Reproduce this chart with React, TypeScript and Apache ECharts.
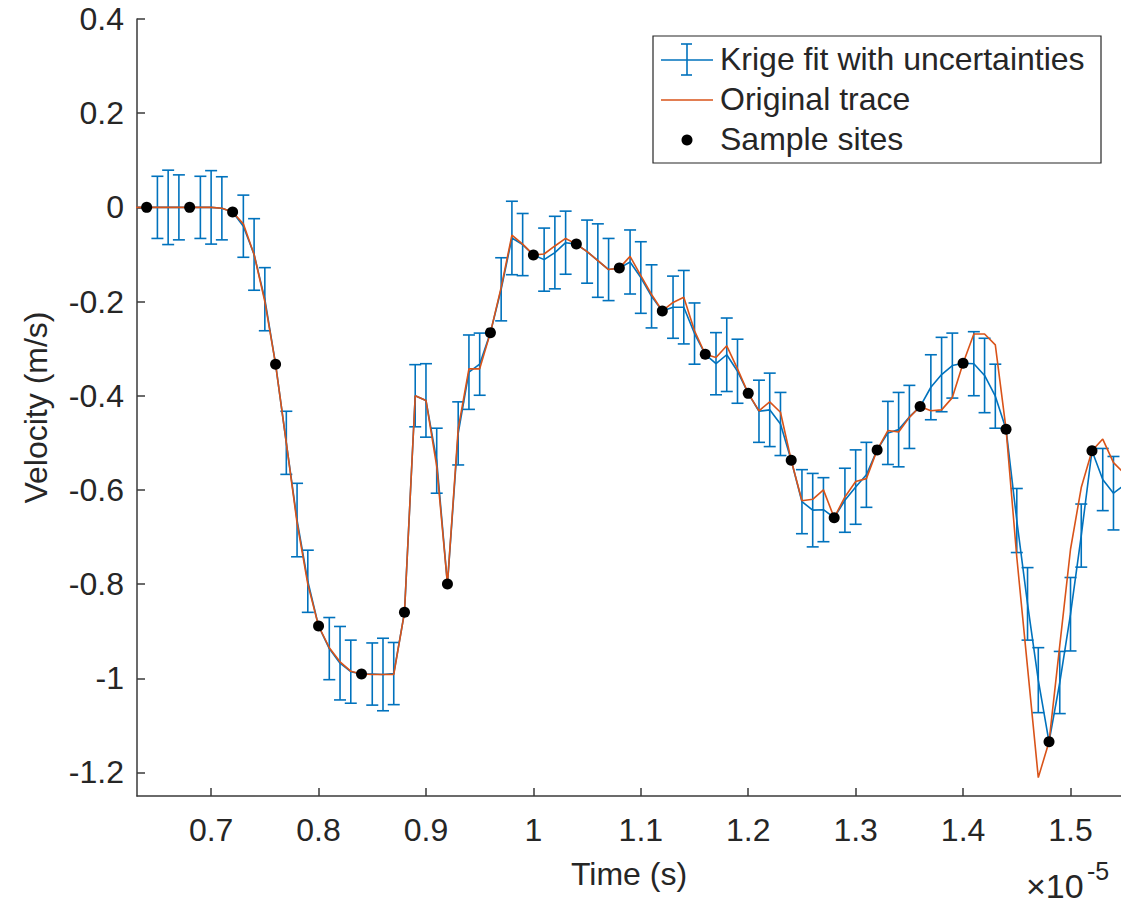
import React, { useEffect, useRef } from "react";
import * as echarts from "echarts";

// Time axis values (in units of 1e-5 s)
const TIME = [
  0.63, 0.64, 0.65, 0.66, 0.67, 0.68, 0.69, 0.7, 0.71, 0.72, 0.73, 0.74, 0.75, 0.76, 0.77, 0.78, 0.79, 0.8,
  0.81, 0.82, 0.83, 0.84, 0.85, 0.86, 0.87, 0.88, 0.89, 0.9, 0.91, 0.92, 0.93, 0.94, 0.95, 0.96, 0.97, 0.98,
  0.99, 1.0, 1.01, 1.02, 1.03, 1.04, 1.05, 1.06, 1.07, 1.08, 1.09, 1.1, 1.11, 1.12, 1.13, 1.14, 1.15, 1.16,
  1.17, 1.18, 1.19, 1.2, 1.21, 1.22, 1.23, 1.24, 1.25, 1.26, 1.27, 1.28, 1.29, 1.3, 1.31, 1.32, 1.33, 1.34,
  1.35, 1.36, 1.37, 1.38, 1.39, 1.4, 1.41, 1.42, 1.43, 1.44, 1.45, 1.46, 1.47, 1.48, 1.49, 1.5, 1.51, 1.52,
  1.53, 1.54, 1.55,
];

// Krige fit (blue)
const KRIGE = [
  0, 0, 0, 0, 0, 0, 0, 0, -0.002, -0.01, -0.04, -0.1, -0.195, -0.333, -0.5, -0.664, -0.794, -0.889,
  -0.937, -0.968, -0.986, -0.991, -0.991, -0.992, -0.99, -0.86, -0.4, -0.41, -0.538, -0.8, -0.48, -0.35, -0.333, -0.266, -0.174, -0.065,
  -0.079, -0.101, -0.111, -0.096, -0.075, -0.078, -0.094, -0.113, -0.132, -0.129, -0.116, -0.149, -0.189, -0.22, -0.212, -0.212, -0.268, -0.312,
  -0.332, -0.313, -0.348, -0.395, -0.433, -0.43, -0.46, -0.537, -0.625, -0.643, -0.642, -0.659, -0.622, -0.594, -0.568, -0.515, -0.479, -0.472,
  -0.445, -0.423, -0.382, -0.355, -0.336, -0.331, -0.332, -0.357, -0.401, -0.471, -0.665, -0.842, -1.004, -1.135, -1.009, -0.864, -0.697, -0.517,
  -0.578, -0.607, -0.59,
];

// Krige uncertainty (half length of each error bar)
const KRIGE_ERR = [
  0.066, 0, 0.066, 0.079, 0.069, 0, 0.066, 0.078, 0.067, 0, 0.066, 0.076, 0.067, 0, 0.067, 0.078, 0.066, 0,
  0.066, 0.078, 0.067, 0, 0.066, 0.077, 0.066, 0, 0.066, 0.078, 0.069, 0, 0.067, 0.079, 0.066, 0, 0.067, 0.078,
  0.066, 0, 0.067, 0.077, 0.067, 0, 0.067, 0.078, 0.066, 0, 0.068, 0.076, 0.067, 0, 0.066, 0.078, 0.065, 0,
  0.066, 0.078, 0.068, 0, 0.066, 0.078, 0.067, 0, 0.068, 0.078, 0.068, 0, 0.068, 0.079, 0.069, 0, 0.067, 0.079,
  0.067, 0, 0.069, 0.079, 0.069, 0, 0.068, 0.079, 0.068, 0, 0.068, 0.077, 0.069, 0, 0.066, 0.078, 0.067, 0,
  0.066, 0.078, 0.09,
];

// Original trace (orange)
const TRACE = [
  0, 0, 0, 0, 0, 0, 0, 0, -0.002, -0.01, -0.035, -0.1, -0.2, -0.333, -0.5, -0.67, -0.8, -0.889,
  -0.935, -0.965, -0.985, -0.991, -0.992, -0.992, -0.992, -0.86, -0.4, -0.41, -0.55, -0.8, -0.47, -0.343, -0.343, -0.266, -0.17, -0.059,
  -0.078, -0.101, -0.099, -0.082, -0.066, -0.078, -0.094, -0.113, -0.132, -0.129, -0.104, -0.145, -0.185, -0.22, -0.202, -0.191, -0.262, -0.312,
  -0.319, -0.294, -0.343, -0.395, -0.432, -0.413, -0.435, -0.537, -0.623, -0.62, -0.6, -0.659, -0.615, -0.582, -0.576, -0.515, -0.474, -0.477,
  -0.446, -0.423, -0.432, -0.43, -0.404, -0.331, -0.269, -0.269, -0.292, -0.471, -0.743, -0.977, -1.211, -1.135, -0.93, -0.726, -0.595, -0.517,
  -0.492, -0.542, -0.565,
];

// Sample sites (black dots)
const SAMPLE_TIME = [
  0.64, 0.68, 0.72, 0.76, 0.8, 0.84, 0.88, 0.92, 0.96, 1.0, 1.04, 1.08, 1.12, 1.16, 1.2, 1.24, 1.28, 1.32,
  1.36, 1.4, 1.44, 1.48, 1.52,
];
const SAMPLE_VEL = [
  0, 0, -0.01, -0.333, -0.889, -0.991, -0.86, -0.8, -0.266, -0.101, -0.078, -0.129, -0.22, -0.312, -0.395,
  -0.537, -0.659, -0.515, -0.423, -0.331, -0.471, -1.135, -0.517,
];

const X_TICKS = [0.7, 0.8, 0.9, 1.0, 1.1, 1.2, 1.3, 1.4, 1.5];
const Y_TICKS = [-1.2, -1, -0.8, -0.6, -0.4, -0.2, 0, 0.2, 0.4];
const X_MIN = 0.631;
const X_MAX = 1.547;
const Y_MIN = -1.25;
const Y_MAX = 0.4;

const LEGEND_NAMES = ["Krige fit with uncertainties", "Original trace", "Sample sites"];

const BLUE = "#0072BD";
const ORANGE = "#D95319";
const INK = "#262626";
const AXIS = "#3a3a3a";
const FONT = "'Liberation Sans', Arial, Helvetica, sans-serif";

const fmt = (v: number) => String(Math.round(v * 10) / 10);

export default function App() {
  const ref = useRef<HTMLDivElement>(null);

  useEffect(() => {
    if (!ref.current) return;
    const chart = echarts.init(ref.current, null, { renderer: "svg" });

    const errData = TIME.map((t, i) => [t, KRIGE[i], KRIGE_ERR[i]]);
    const krigeLine = TIME.map((t, i) => [t, KRIGE[i]]);
    const traceLine = TIME.map((t, i) => [t, TRACE[i]]);
    const samples = SAMPLE_TIME.map((t, i) => [t, SAMPLE_VEL[i]]);

    const textStyle = { color: INK, fontSize: 32, fontFamily: FONT };
    const gtext = (x: number, y: number, text: string, size = 32) => ({
      type: "text",
      x,
      y,
      z: 20,
      style: {
        text,
        fill: INK,
        fontSize: size,
        fontFamily: FONT,
        verticalAlign: "middle",
        align: "left",
      },
    });

    chart.setOption({
      animation: false,
      backgroundColor: "#ffffff",
      grid: { left: 137, top: 19, right: 0, bottom: 108, containLabel: false },
      xAxis: {
        type: "value",
        min: X_MIN,
        max: X_MAX,
        name: "Time (s)",
        nameLocation: "middle",
        nameGap: 62,
        nameTextStyle: textStyle,
        axisLine: { show: true, onZero: false, lineStyle: { color: AXIS, width: 1.5 } },
        axisTick: { show: true, inside: true, length: 8, customValues: X_TICKS, lineStyle: { color: AXIS, width: 1.5 } },
        axisLabel: { ...textStyle, margin: 18, customValues: X_TICKS, formatter: fmt },
        splitLine: { show: false },
      },
      yAxis: {
        type: "value",
        min: Y_MIN,
        max: Y_MAX,
        name: "Velocity (m/s)",
        nameLocation: "middle",
        nameGap: 85,
        nameTextStyle: textStyle,
        axisLine: { show: true, onZero: false, lineStyle: { color: AXIS, width: 1.5 } },
        axisTick: { show: true, inside: true, length: 8, customValues: Y_TICKS, lineStyle: { color: AXIS, width: 1.5 } },
        axisLabel: { ...textStyle, margin: 13, customValues: Y_TICKS, formatter: fmt },
        splitLine: { show: false },
      },
      series: [
        {
          type: "custom",
          name: LEGEND_NAMES[0] + " bars",
          data: errData,
          z: 2,
          silent: true,
          encode: { x: 0, y: 1 },
          renderItem: (params: any, api: any) => {
            const x = api.value(0);
            const y = api.value(1);
            const e = api.value(2);
            if (!(e > 0) || x < X_MIN || x > X_MAX) return null;
            const top = api.coord([x, y + e]);
            const bot = api.coord([x, y - e]);
            const w = 6;
            const st = { stroke: BLUE, lineWidth: 1.6 };
            return {
              type: "group",
              children: [
                { type: "line", shape: { x1: top[0], y1: top[1], x2: bot[0], y2: bot[1] }, style: st },
                { type: "line", shape: { x1: top[0] - w, y1: top[1], x2: top[0] + w, y2: top[1] }, style: st },
                { type: "line", shape: { x1: bot[0] - w, y1: bot[1], x2: bot[0] + w, y2: bot[1] }, style: st },
              ],
            };
          },
        },
        {
          type: "line",
          name: LEGEND_NAMES[0],
          data: krigeLine,
          symbol: "none",
          z: 2,
          lineStyle: { color: BLUE, width: 1.6 },
          itemStyle: { color: BLUE },
        },
        {
          type: "line",
          name: LEGEND_NAMES[1],
          data: traceLine,
          symbol: "none",
          z: 3,
          lineStyle: { color: ORANGE, width: 1.6 },
          itemStyle: { color: ORANGE },
        },
        {
          type: "scatter",
          name: LEGEND_NAMES[2],
          data: samples,
          symbol: "circle",
          symbolSize: 11,
          z: 4,
          itemStyle: { color: "#000000", opacity: 1 },
        },
      ],
      graphic: [
        {
          type: "rect",
          z: 10,
          shape: { x: 653, y: 36, width: 448, height: 127 },
          style: { fill: "#ffffff", stroke: INK, lineWidth: 1.2 },
        },
        { type: "line", z: 11, shape: { x1: 661, y1: 60, x2: 713, y2: 60 }, style: { stroke: BLUE, lineWidth: 1.6 } },
        { type: "line", z: 11, shape: { x1: 687, y1: 44, x2: 687, y2: 75 }, style: { stroke: BLUE, lineWidth: 1.6 } },
        { type: "line", z: 11, shape: { x1: 681, y1: 44, x2: 692, y2: 44 }, style: { stroke: BLUE, lineWidth: 1.6 } },
        { type: "line", z: 11, shape: { x1: 681, y1: 75, x2: 692, y2: 75 }, style: { stroke: BLUE, lineWidth: 1.6 } },
        { type: "line", z: 11, shape: { x1: 661, y1: 100, x2: 713, y2: 100 }, style: { stroke: ORANGE, lineWidth: 1.6 } },
        { type: "circle", z: 11, shape: { cx: 687, cy: 140, r: 5.5 }, style: { fill: "#000000" } },
        gtext(720, 59, LEGEND_NAMES[0]),
        gtext(720, 99, LEGEND_NAMES[1]),
        gtext(720, 139, LEGEND_NAMES[2]),
        gtext(1026, 886, "×10", 34),
        gtext(1087, 871, "-5", 25),
      ],
    });

    return () => chart.dispose();
  }, []);

  return (
    <div
      ref={ref}
      style={{ position: "fixed", left: 0, top: 0, width: 1121, height: 904, background: "#fff" }}
    />
  );
}
